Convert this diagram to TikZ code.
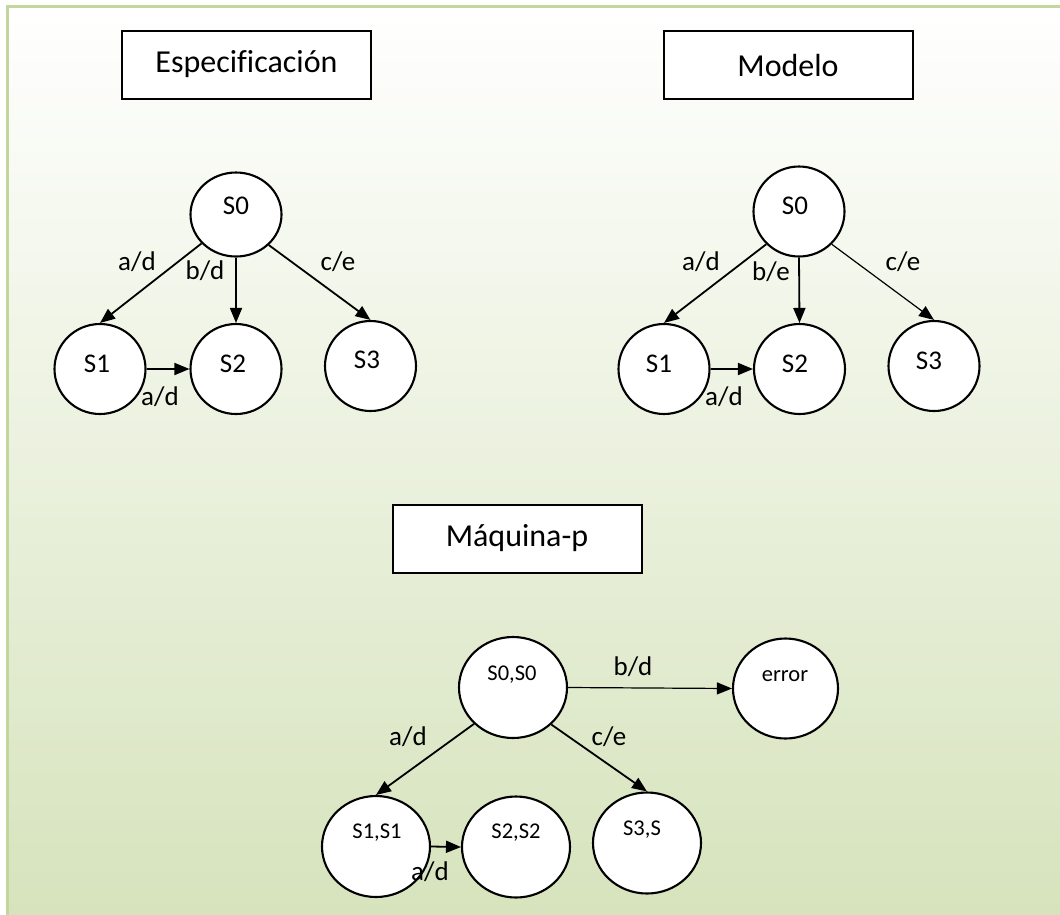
\documentclass[tikz,border=0pt]{standalone}
\usepackage{fontspec}
\setmainfont[Ligatures={NoCommon}]{Carlito}
\usetikzlibrary{shapes.geometric,arrows.meta}
\definecolor{panelborder}{RGB}{195,214,155}
\definecolor{panelmid}{RGB}{230,238,216}
\definecolor{panelbottom}{RGB}{214,227,188}
\tikzset{
  titlebox/.style={draw=black, line width=2pt, fill=white, minimum width=249pt,
    minimum height=68pt, inner sep=0pt, font=\fontsize{32}{36}\selectfont},
  state/.style={draw=black, line width=2.1pt, fill=white, ellipse, inner sep=0pt},
  bigstate/.style={state, minimum width=91pt, minimum height=90pt},
  pairstate/.style={state, minimum width=108pt, minimum height=101pt},
  stname/.style={font=\fontsize{27}{30}\selectfont, inner sep=0pt},
  pairname/.style={font=\fontsize{22.5}{26}\selectfont, inner sep=0pt},
  edgelbl/.style={font=\fontsize{27}{30}\selectfont, inner sep=0pt},
  trans/.style={draw=black, line width=1.8pt, -{Triangle[length=15pt,width=12pt]}},
  thintrans/.style={trans, line width=1.2pt},
}
\begin{document}
\begin{tikzpicture}[x=1pt,y=-1pt]
\useasboundingbox (0,0) rectangle (1060,914);
% panel background with green edge
\shade[top color=white, middle color=panelmid, bottom color=panelbottom]
  (7,6) rectangle (1066,920);
\draw[panelborder, line width=3pt] (7,920) -- (7,6) -- (1066,6);

% --- Especificacion ---
\node[titlebox] (tspec) at (246.5,64.5) {Especificación};
\node[bigstate, minimum height=84pt] (a0) at (236,214.5) {};
\node[bigstate] (a1) at (100,369) {};
\node[bigstate] (a2) at (236,369) {};
\node[bigstate] (a3) at (370.5,366) {};
\node[stname] (a0t) at (236,206) {S0};
\node[stname] (a1t) at (97,364) {S1};
\node[stname] (a2t) at (233,364) {S2};
\node[stname] (a3t) at (367,360) {S3};
\draw[trans] (a0.220) -- (a1.north);
\draw[trans] (a0.south) -- (a2.north);
\draw[trans] (a0.317) -- (a3.north);
\draw[trans] (a1.east) -- (a2.west);
\node[edgelbl] (la01) at (137,262) {a/d};
\node[edgelbl] (la02) at (205,271) {b/d};
\node[edgelbl] (la03) at (338,262) {c/e};
\node[edgelbl] (la12) at (160,397) {a/d};

% --- Modelo ---
\node[titlebox] (tmod) at (788,65) {Modelo};
\node[bigstate] (b0) at (799,211.5) {};
\node[bigstate] (b1) at (664,369) {};
\node[bigstate] (b2) at (799.5,369) {};
\node[bigstate] (b3) at (934,366) {};
\node[stname] (b0t) at (795,206) {S0};
\node[stname] (b1t) at (659,364) {S1};
\node[stname] (b2t) at (795,364) {S2};
\node[stname] (b3t) at (929,361) {S3};
\draw[trans] (b0.225) -- (b1.north);
\draw[trans] (b0.south) -- (b2.north);
\draw[thintrans] (b0.315) -- (b3.north);
\draw[trans] (b1.east) -- (b2.west);
\node[edgelbl] (lb01) at (701,262) {a/d};
\node[edgelbl] (lb02) at (771,272) {b/e};
\node[edgelbl] (lb03) at (903,262) {c/e};
\node[edgelbl] (lb12) at (724,397) {a/d};

% --- Maquina-p ---
\node[titlebox] (tmaq) at (517,538.5) {Máquina-p};
\node[pairstate] (c0) at (513,687.5) {};
\node[pairstate] (c1) at (376,846.5) {};
\node[pairstate] (c2) at (516,847) {};
\node[pairstate] (c3) at (647,843) {};
\node[state, minimum width=105pt, minimum height=100pt] (ce) at (785.5,688.5) {};
\node[pairname] (c0t) at (512,675) {S0,S0};
\node[pairname] (c1t) at (377,833) {S1,S1};
\node[pairname] (c2t) at (516,833) {S2,S2};
\node[pairname] (c3t) at (642,830) {S3,S};
\node[pairname] (cet) at (785,676) {error};
\draw[trans] (c0.223) -- (c1.north);
\draw[trans] (c0.316) -- (c3.north);
\draw[thintrans] (c0.east) -- (ce.west);
\draw[trans] (c1.east) -- (c2.west);
\node[edgelbl] (lc01) at (408,737) {a/d};
\node[edgelbl] (lc03) at (609,737) {c/e};
\node[edgelbl] (lc0e) at (633,667) {b/d};
\node[edgelbl] (lc12) at (430,872) {a/d};
\end{tikzpicture}
\end{document}
